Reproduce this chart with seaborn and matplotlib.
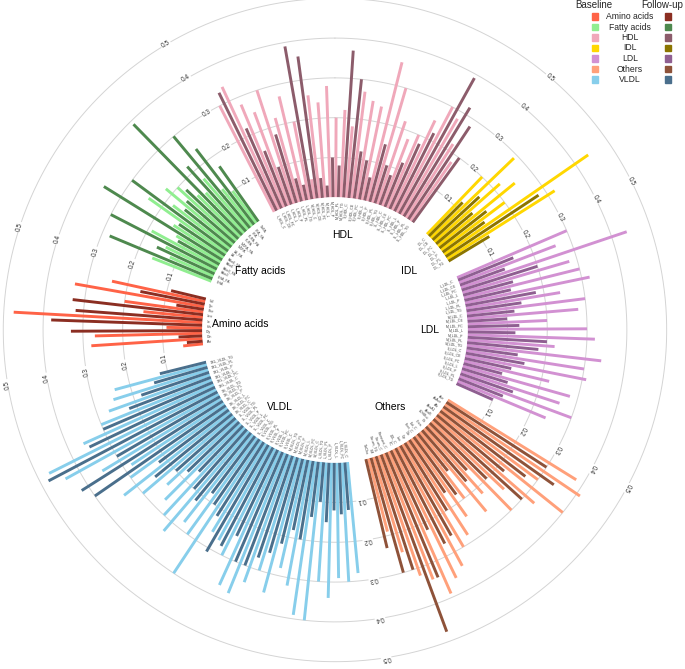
import numpy as np
import pandas as pd
import matplotlib
matplotlib.use("Agg")
import matplotlib.pyplot as plt
from matplotlib.patches import Rectangle
import seaborn as sns

groups = ["Amino acids", "Fatty acids", "HDL", "IDL", "LDL", "Others", "VLDL"]

amino_names = ["Ala", "Gln", "Gly", "His", "Ile", "Leu", "Phe", "Tyr", "Val"]
amino_base = [0.05, 0.28, 0.27, 0.09, 0.475, 0.15, 0.20, 0.33, 0.24]
amino_follow = [0.04, 0.06, 0.33, 0.38, 0.32, 0.33, 0.07, 0.165, 0.09]

fatty_names = ["DHA", "DHA_FA", "FAw3", "FAw3_FA", "FAw6", "FAw6_FA", "LA", "LA_FA",
               "MUFA", "MUFA_FA", "PUFA", "PUFA_FA", "SFA", "SFA_FA", "TotFA"]
fatty_base = [0.16, 0.12, 0.14, 0.19, 0.13, 0.15, 0.24, 0.18, 0.22, 0.20, 0.15, 0.14, 0.17, 0.12, 0.10]
fatty_follow = [0.28, 0.16, 0.30, 0.12, 0.35, 0.14, 0.30, 0.15, 0.16, 0.18, 0.39, 0.22, 0.30, 0.24, 0.17]

hdl_names = [s + "_HDL_" + m for s in ["L", "M", "S", "XL"]
             for m in ["C", "CE", "FC", "L", "P", "PL", "TG"]]
hdl_base = [0.30, 0.34, 0.28, 0.25, 0.30, 0.22, 0.27, 0.20, 0.05, 0.26, 0.24, 0.28, 0.20, 0.22,
            0.18, 0.27, 0.25, 0.24, 0.36, 0.30, 0.22, 0.18, 0.20, 0.25, 0.30, 0.28, 0.22, 0.18]
hdl_follow = [0.33, 0.22, 0.15, 0.10, 0.18, 0.06, 0.04, 0.39, 0.36, 0.05, 0.03, 0.10, 0.08, 0.37,
              0.30, 0.12, 0.10, 0.06, 0.15, 0.10, 0.08, 0.12, 0.18, 0.22, 0.39, 0.32, 0.28, 0.20]

idl_names = ["IDL_C", "IDL_CE", "IDL_FC", "IDL_L", "IDL_P", "IDL_PL", "IDL_TG"]
idl_base = [0.20, 0.29, 0.22, 0.25, 0.20, 0.44, 0.32]
idl_follow = [0.12, 0.16, 0.12, 0.15, 0.13, 0.28, 0.12]

ldl_names = [s + "_LDL_" + m for s in ["L", "M", "S"]
             for m in ["C", "CE", "FC", "L", "P", "PL", "TG"]]
ldl_base = [0.30, 0.26, 0.44, 0.28, 0.30, 0.32, 0.24, 0.30, 0.28, 0.20, 0.30,
            0.32, 0.22, 0.34, 0.30, 0.31, 0.22, 0.28, 0.26, 0.30, 0.24]
ldl_follow = [0.15, 0.12, 0.20, 0.13, 0.12, 0.18, 0.14, 0.12, 0.10, 0.13, 0.12,
              0.20, 0.18, 0.13, 0.15, 0.12, 0.10, 0.12, 0.14, 0.12, 0.10]

other_names = ["Ace", "AcAce", "Alb", "ApoA1", "ApoB", "bOHBut", "Cit", "Crea", "Est_C", "Free_C",
               "Glc", "Gp", "Lac", "LDL_C", "PC", "Remnant_C", "Serum_C", "Serum_TG", "SM", "TotCho"]
other_base = [0.38, 0.41, 0.30, 0.40, 0.33, 0.25, 0.30, 0.22, 0.26, 0.20,
              0.24, 0.28, 0.30, 0.34, 0.36, 0.39, 0.34, 0.32, 0.25, 0.19]
other_follow = [0.30, 0.34, 0.27, 0.22, 0.30, 0.20, 0.15, 0.17, 0.12, 0.18,
                0.16, 0.20, 0.26, 0.27, 0.22, 0.34, 0.475, 0.30, 0.30, 0.23]

vldl_names = [s + "_VLDL_" + m for s in ["L", "M", "S", "XL", "XS", "XXL"]
              for m in ["C", "FC", "L", "P", "PL", "TG"]]
vldl_base = [0.28, 0.30, 0.29, 0.34, 0.30, 0.40, 0.39, 0.32, 0.28, 0.35, 0.30, 0.34,
             0.38, 0.37, 0.30, 0.27, 0.26, 0.40, 0.30, 0.28, 0.33, 0.30, 0.27, 0.24,
             0.30, 0.34, 0.30, 0.28, 0.35, 0.44, 0.47, 0.36, 0.30, 0.27, 0.25, 0.24]
vldl_follow = [0.12, 0.13, 0.12, 0.15, 0.10, 0.14, 0.20, 0.18, 0.22, 0.25, 0.27, 0.30,
               0.30, 0.24, 0.28, 0.31, 0.22, 0.20, 0.18, 0.22, 0.20, 0.16, 0.18, 0.20,
               0.25, 0.22, 0.40, 0.42, 0.30, 0.48, 0.35, 0.30, 0.22, 0.18, 0.14, 0.12]

base_colors = ["#FF6347", "#90EE90", "#F0A8BA", "#FFD700", "#D291D2", "#FFA07A", "#87CEEB"]
follow_colors = ["#8B2E22", "#4E894E", "#8C5C6B", "#8B7500", "#8F5F91", "#8E5239", "#4A6F8C"]

ticks = [0.1, 0.2, 0.3, 0.4, 0.5]

all_names = [amino_names, fatty_names, hdl_names, idl_names, ldl_names, other_names, vldl_names]
all_base = [amino_base, fatty_base, hdl_base, idl_base, ldl_base, other_base, vldl_base]
all_follow = [amino_follow, fatty_follow, hdl_follow, idl_follow, ldl_follow, other_follow, vldl_follow]

# long table: one row per variable, slot positions around the circle
gap = 5
rows = []
group_start = {}
pos = 0
for g, names, b, f in zip(groups, all_names, all_base, all_follow):
    group_start[g] = pos
    for i, (n, vb, vf) in enumerate(zip(names, b, f)):
        rows.append((g, n, vb, vf, pos + 2 * i))
    pos += 2 * len(names) + gap + 1
df = pd.DataFrame(rows, columns=["group", "var", "Baseline", "Follow-up", "pos"])
total_slots = pos
slot_deg = 360.0 / total_slots
start_deg = 264.0


def ang(p):
    return np.deg2rad(start_deg + p * slot_deg)


sns.set_theme(style="white")
plt.rcParams["font.family"] = ["Liberation Sans", "DejaVu Sans"]

fig = plt.figure(figsize=(6.85, 6.69), dpi=100)
ax = fig.add_axes([0.003, 0.009, 0.972, 0.9955], projection="polar")
ax.set_theta_zero_location("N")
ax.set_theta_direction(-1)
ax.set_rorigin(-1 / 3)
ax.set_ylim(0, 0.503)
ax.set_axis_off()

th = np.linspace(0, 2 * np.pi, 720)
for r in ticks:
    ax.plot(th, np.full_like(th, r), color="#d4d4d4", lw=0.7, zorder=0)

for k, g in enumerate(groups):
    sub = df[df.group == g]
    bc = sns.color_palette([base_colors[k]])[0]
    fc = sns.color_palette([follow_colors[k]])[0]
    ax.vlines(ang(sub.pos), 0, sub["Baseline"], color=bc, lw=2.1, zorder=2)
    ax.vlines(ang(sub.pos + 1), 0, sub["Follow-up"], color=fc, lw=2.1, zorder=2)

    # variable labels in the inner ring
    for _, row in sub.iterrows():
        t = start_deg + (row.pos + 0.5) * slot_deg
        td = t % 360
        if td < 180:
            rot, ha = 90 - td, "right"
        else:
            rot, ha = 270 - td, "left"
        ax.text(np.deg2rad(t), -0.01, row["var"], rotation=rot, rotation_mode="anchor",
                ha=ha, va="center", fontsize=2.5, color="#444444")

    # per-group radial tick labels in the gap before the group
    tg = start_deg + (group_start[g] - (gap + 1) / 2) * slot_deg
    for r in ticks:
        ax.text(np.deg2rad(tg), r, f"{r:.1f}", rotation=-tg, rotation_mode="anchor",
                ha="center", va="center", fontsize=4.7, color="#333333", zorder=3,
                bbox=dict(fc="white", ec="none", pad=0.6))

    # group name
    tc = start_deg + (sub.pos.min() + sub.pos.max() + 1) / 2 * slot_deg
    ax.text(np.deg2rad(tc), -0.095, g, ha="center", va="center", fontsize=7.5, color="black")

# legend
W, H = 685, 669
fig.text(594 / W, 1 - 5 / H, "Baseline", ha="center", va="center", fontsize=7)
fig.text(662 / W, 1 - 5 / H, "Follow-up", ha="center", va="center", fontsize=7)
for k, g in enumerate(groups):
    yc = 16.5 + k * 10.5
    fig.patches.append(Rectangle(((595 - 3) / W, 1 - (yc + 3) / H), 6 / W, 6 / H,
                                 transform=fig.transFigure, color=base_colors[k]))
    fig.patches.append(Rectangle(((668 - 3) / W, 1 - (yc + 3) / H), 6 / W, 6 / H,
                                 transform=fig.transFigure, color=follow_colors[k]))
    fig.text(630 / W, 1 - yc / H, g, ha="center", va="center", fontsize=6.2)

fig.savefig("out.png", dpi=100, facecolor="white")
